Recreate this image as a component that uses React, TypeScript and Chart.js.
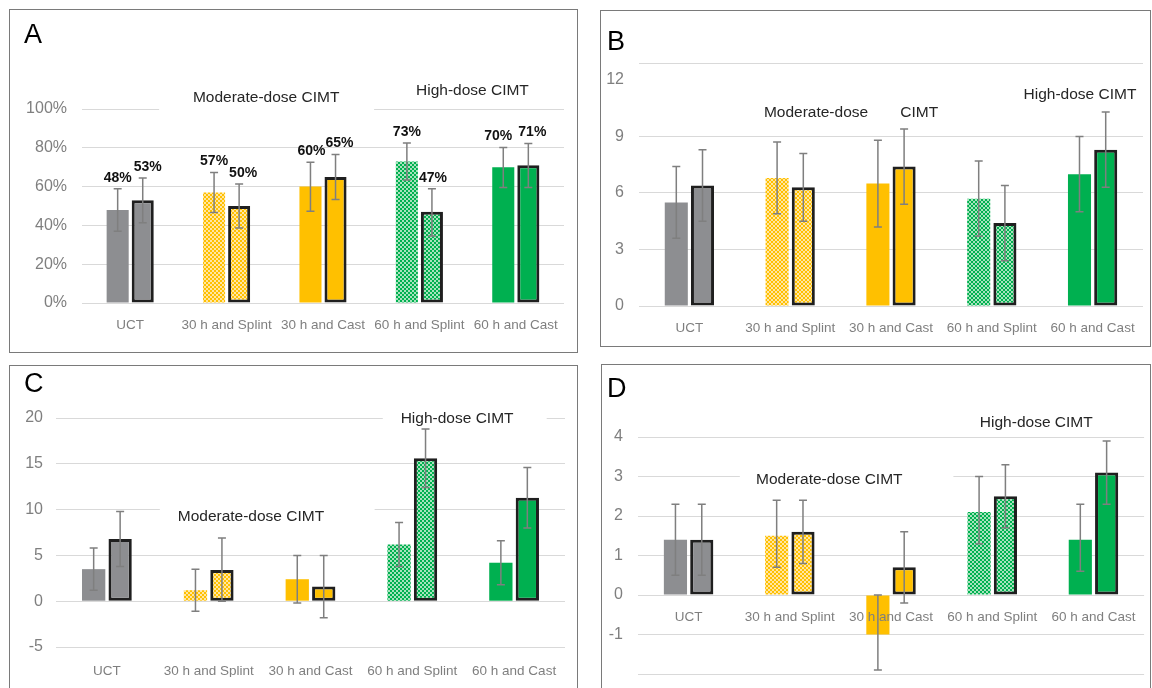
import React, { useEffect, useRef } from 'react';
import { Chart, registerables } from 'chart.js';

Chart.register(...registerables);

const categories = ['UCT', '30 h and Splint', '30 h and Cast', '60 h and Splint', '60 h and Cast'];

// Panel A (percent)
const aFirst = [48, 57, 60, 73, 70];
const aSecond = [53, 50, 65, 47, 71];
const aFirstLow = [37, 46.6, 47.3, 63.4, 59.6];
const aFirstHigh = [58.9, 67.3, 72.6, 82.5, 80.1];
const aSecondLow = [41.4, 38.7, 53.3, 34.6, 59.6];
const aSecondHigh = [64.4, 61.3, 76.5, 58.9, 82.2];
const aTicks = [0, 20, 40, 60, 80, 100];

// Panel B
const bFirst = [5.5, 6.8, 6.5, 5.7, 7.0];
const bSecond = [6.4, 6.3, 7.4, 4.4, 8.3];
const bFirstLow = [3.6, 4.9, 4.2, 3.7, 5.0];
const bFirstHigh = [7.4, 8.7, 8.8, 7.7, 9.0];
const bSecondLow = [4.5, 4.5, 5.4, 2.4, 6.3];
const bSecondHigh = [8.3, 8.1, 9.4, 6.4, 10.3];
const bTicks = [0, 3, 6, 9, 12, 12.9];
const bUnlabeled = [12.9];
const bNoGrid = [12];

// Panel C
const cFirst = [3.5, 1.2, 2.4, 6.2, 4.2];
const cSecond = [6.8, 3.4, 1.6, 15.6, 11.3];
const cFirstLow = [1.2, -1.1, -0.2, 3.8, 1.8];
const cFirstHigh = [5.8, 3.5, 5.0, 8.6, 6.6];
const cSecondLow = [3.8, 0, -1.8, 12.4, 8.0];
const cSecondHigh = [9.8, 6.9, 5.0, 18.8, 14.6];
const cTicks = [-5, 0, 5, 10, 15, 20];

// Panel D
const dFirst = [1.4, 1.5, -1.0, 2.1, 1.4];
const dSecond = [1.4, 1.6, 0.7, 2.5, 3.1];
const dFirstLow = [0.5, 0.7, -1.9, 1.3, 0.6];
const dFirstHigh = [2.3, 2.4, 0, 3.0, 2.3];
const dSecondLow = [0.5, 0.8, -0.2, 1.7, 2.3];
const dSecondHigh = [2.3, 2.4, 1.6, 3.3, 3.9];
const dTicks = [-2, -1, 0, 1, 2, 3, 4];
const dUnlabeled = [-2];

const FONT = '"Liberation Sans", Arial, sans-serif';
const GRAY = '#8D8E91';
const YELLOW = '#FFC000';
const GREEN = '#00B050';

function makePattern(base: string, light: string) {
  const c = document.createElement('canvas');
  c.width = 4;
  c.height = 4;
  const g = c.getContext('2d')!;
  g.fillStyle = light;
  g.fillRect(0, 0, 4, 4);
  g.fillStyle = base;
  g.fillRect(0, 0, 2, 2);
  g.fillRect(2, 2, 2, 2);
  return g.createPattern(c, 'repeat');
}

type Txt = { t: string; x: number; y: number };
type Mask = { from: number; to: number; at: number };

interface PanelCfg {
  letter: string;
  box: { left: number; top: number; width: number; height: number };
  first: number[];
  second: number[];
  firstLow: number[];
  firstHigh: number[];
  secondLow: number[];
  secondHigh: number[];
  ticks: number[];
  unlabeled: number[];
  noGrid: number[];
  percent: boolean;
  dataLabels: boolean;
  labelDx: number[][];
  xAtZero: boolean;
  pad: { left: number; right: number; top: number; bottom: number };
  yW: number;
  yPad: number;
  xPad: number;
  letterPos: { x: number; y: number };
  texts: Txt[];
  masks: Mask[];
}

const panels: PanelCfg[] = [
  {
    letter: 'A',
    box: { left: 9, top: 9, width: 569, height: 344 },
    first: aFirst, second: aSecond,
    firstLow: aFirstLow, firstHigh: aFirstHigh, secondLow: aSecondLow, secondHigh: aSecondHigh,
    ticks: aTicks, unlabeled: [], noGrid: [],
    percent: true, dataLabels: true,
    labelDx: [[0, 0, 1, 0, -5], [5, 4, 4, 1, 4]],
    xAtZero: false,
    pad: { left: 12, right: 13, top: 99, bottom: 19 },
    yW: 60, yPad: 15, xPad: 14,
    letterPos: { x: 14, y: 33 },
    texts: [
      { t: 'Moderate-dose CIMT', x: 1.41, y: 105.7 },
      { t: 'High-dose CIMT', x: 3.55, y: 109.3 },
    ],
    masks: [{ from: 0.3, to: 2.53, at: 100 }],
  },
  {
    letter: 'B',
    box: { left: 600, top: 10, width: 551, height: 337 },
    first: bFirst, second: bSecond,
    firstLow: bFirstLow, firstHigh: bFirstHigh, secondLow: bSecondLow, secondHigh: bSecondHigh,
    ticks: bTicks, unlabeled: bUnlabeled, noGrid: bNoGrid,
    percent: false, dataLabels: false, labelDx: [],
    xAtZero: false,
    pad: { left: 0, right: 7, top: 52, bottom: 10 },
    yW: 38, yPad: 15, xPad: 14,
    letterPos: { x: 6, y: 39 },
    texts: [
      { t: 'Moderate-dose', x: 1.256, y: 10.25 },
      { t: 'CIMT', x: 2.28, y: 10.25 },
      { t: 'High-dose CIMT', x: 3.875, y: 11.2 },
    ],
    masks: [],
  },
  {
    letter: 'C',
    box: { left: 9, top: 365, width: 569, height: 340 },
    first: cFirst, second: cSecond,
    firstLow: cFirstLow, firstHigh: cFirstHigh, secondLow: cSecondLow, secondHigh: cSecondHigh,
    ticks: cTicks, unlabeled: [], noGrid: [],
    percent: false, dataLabels: false, labelDx: [],
    xAtZero: false,
    pad: { left: 0, right: 12, top: 52, bottom: 27 },
    yW: 46, yPad: 13, xPad: 16,
    letterPos: { x: 14, y: 26 },
    texts: [
      { t: 'Moderate-dose CIMT', x: 1.415, y: 9.2 },
      { t: 'High-dose CIMT', x: 3.44, y: 19.9 },
    ],
    masks: [
      { from: 0.52, to: 2.63, at: 10 },
      { from: 2.71, to: 4.32, at: 20 },
    ],
  },
  {
    letter: 'D',
    box: { left: 601, top: 364, width: 550, height: 340 },
    first: dFirst, second: dSecond,
    firstLow: dFirstLow, firstHigh: dFirstHigh, secondLow: dSecondLow, secondHigh: dSecondHigh,
    ticks: dTicks, unlabeled: dUnlabeled, noGrid: [],
    percent: false, dataLabels: false, labelDx: [],
    xAtZero: true,
    pad: { left: 0, right: 5, top: 72, bottom: 29 },
    yW: 36, yPad: 15, xPad: 14,
    letterPos: { x: 5, y: 32 },
    texts: [
      { t: 'Moderate-dose CIMT', x: 1.39, y: 2.91 },
      { t: 'High-dose CIMT', x: 3.435, y: 4.35 },
    ],
    masks: [{ from: 0.506, to: 2.616, at: 3 }],
  },
];

const decorPlugin = {
  id: 'decor',
  beforeDatasetsDraw(chart: any, _a: any, opts: any) {
    const x = chart.scales.x;
    const y = chart.scales.y;
    const ctx = chart.ctx;
    ctx.save();
    ctx.fillStyle = '#ffffff';
    for (const m of opts.masks || []) {
      const x0 = x.getPixelForValue(m.from);
      const x1 = x.getPixelForValue(m.to);
      const yp = y.getPixelForValue(m.at);
      ctx.fillRect(x0, yp - 3, x1 - x0, 6);
    }
    ctx.restore();
  },
  afterDatasetsDraw(chart: any, _a: any, opts: any) {
    const y = chart.scales.y;
    const ctx = chart.ctx;
    ctx.save();
    const lows = opts.lows || [];
    const highs = opts.highs || [];
    chart.data.datasets.forEach((ds: any, di: number) => {
      const meta = chart.getDatasetMeta(di);
      meta.data.forEach((el: any, i: number) => {
        const xp = el.x;
        const yl = y.getPixelForValue(lows[di][i]);
        const yh = y.getPixelForValue(highs[di][i]);
        ctx.strokeStyle = '#7F7F7F';
        ctx.lineWidth = 1.5;
        ctx.beginPath();
        ctx.moveTo(xp, yl);
        ctx.lineTo(xp, yh);
        ctx.moveTo(xp - 4, yl);
        ctx.lineTo(xp + 4, yl);
        ctx.moveTo(xp - 4, yh);
        ctx.lineTo(xp + 4, yh);
        ctx.stroke();
        if (opts.dataLabels) {
          const dx = (opts.labelDx && opts.labelDx[di] && opts.labelDx[di][i]) || 0;
          ctx.fillStyle = '#111111';
          ctx.font = 'bold 14px ' + FONT;
          ctx.textAlign = 'center';
          ctx.textBaseline = 'middle';
          ctx.fillText(ds.data[i] + '%', xp + dx, yh - 11);
        }
      });
    });
    ctx.restore();
  },
  afterDraw(chart: any, _a: any, opts: any) {
    const x = chart.scales.x;
    const y = chart.scales.y;
    const ctx = chart.ctx;
    ctx.save();
    ctx.font = '15.5px ' + FONT;
    ctx.fillStyle = '#262626';
    ctx.textAlign = 'center';
    ctx.textBaseline = 'middle';
    for (const t of opts.texts || []) {
      ctx.fillText(t.t, x.getPixelForValue(t.x), y.getPixelForValue(t.y));
    }
    ctx.font = '27px ' + FONT;
    ctx.fillStyle = '#000000';
    ctx.textAlign = 'left';
    ctx.textBaseline = 'alphabetic';
    ctx.fillText(opts.letter, opts.letterPos.x, opts.letterPos.y);
    ctx.restore();
  },
};

function Panel({ cfg }: { cfg: PanelCfg }) {
  const ref = useRef<HTMLCanvasElement | null>(null);
  const w = cfg.box.width - 2;
  const h = cfg.box.height - 2;

  useEffect(() => {
    if (!ref.current) return;
    const yPat = makePattern(YELLOW, '#FFE6A3');
    const gPat = makePattern(GREEN, '#A6E3BC');
    const fills = [GRAY, yPat, YELLOW, gPat, GREEN];
    const chart = new Chart(ref.current, {
      type: 'bar',
      data: {
        labels: categories,
        datasets: [
          {
            data: cfg.first,
            backgroundColor: fills as any,
            borderWidth: 0,
            categoryPercentage: 0.52,
            barPercentage: 0.88,
          },
          {
            data: cfg.second,
            backgroundColor: fills as any,
            borderColor: '#1F1F1F',
            borderWidth: 3,
            borderSkipped: false,
            categoryPercentage: 0.52,
            barPercentage: 0.88,
          },
        ],
      },
      options: {
        responsive: false,
        animation: false,
        layout: { padding: cfg.pad },
        plugins: {
          legend: { display: false },
          tooltip: { enabled: false },
          decor: {
            lows: [cfg.firstLow, cfg.secondLow],
            highs: [cfg.firstHigh, cfg.secondHigh],
            dataLabels: cfg.dataLabels,
            labelDx: cfg.labelDx,
            texts: cfg.texts,
            masks: cfg.masks,
            letter: cfg.letter,
            letterPos: cfg.letterPos,
          },
        } as any,
        scales: {
          x: {
            position: cfg.xAtZero ? ({ y: 0 } as any) : 'bottom',
            grid: { display: false, drawTicks: false },
            border: { display: false },
            ticks: {
              z: cfg.xAtZero ? 1 : 0,
              color: '#7F7F7F',
              font: { family: FONT, size: 13.5 },
              padding: cfg.xPad,
              maxRotation: 0,
              autoSkip: false,
            },
            afterFit: (s: any) => {
              s.height = 30;
            },
          } as any,
          y: {
            min: cfg.ticks[0],
            max: cfg.ticks[cfg.ticks.length - 1],
            afterBuildTicks: (s: any) => {
              s.ticks = cfg.ticks.map((v) => ({ value: v }));
            },
            afterFit: (s: any) => {
              s.width = cfg.yW;
            },
            grid: {
              drawTicks: false,
              lineWidth: 1,
              color: (c: any) =>
                c.tick && cfg.noGrid.includes(c.tick.value) ? 'rgba(0,0,0,0)' : '#D9D9D9',
            },
            border: { display: false },
            ticks: {
              color: '#7F7F7F',
              font: { family: FONT, size: 16 },
              padding: cfg.yPad,
              callback: (v: any) => {
                if (cfg.unlabeled.includes(v)) return '';
                return cfg.percent ? v + '%' : String(v);
              },
            },
          },
        },
      },
      plugins: [decorPlugin as any],
    });
    return () => chart.destroy();
  }, []);

  return (
    <div
      style={{
        position: 'absolute',
        left: cfg.box.left,
        top: cfg.box.top,
        width: cfg.box.width,
        height: cfg.box.height,
        border: '1px solid #7A7A7A',
        boxSizing: 'border-box',
        background: '#fff',
      }}
    >
      <canvas ref={ref} width={w} height={h} style={{ display: 'block', width: w, height: h }} />
    </div>
  );
}

export default function App() {
  return (
    <div
      style={{
        position: 'fixed',
        left: 0,
        top: 0,
        width: 1152,
        height: 688,
        overflow: 'hidden',
        background: '#fff',
      }}
    >
      {panels.map((p) => (
        <Panel key={p.letter} cfg={p} />
      ))}
    </div>
  );
}
